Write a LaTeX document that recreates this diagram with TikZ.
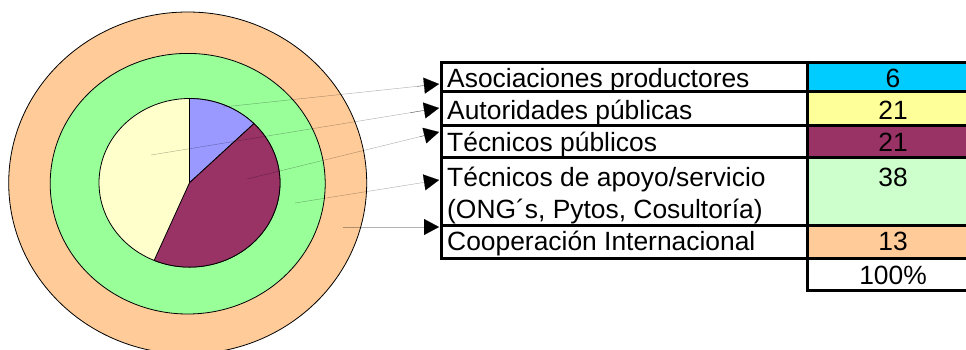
\documentclass[tikz,border=0pt]{standalone}
\usepackage{fontspec}
\setmainfont{Liberation Sans}
\usetikzlibrary{arrows.meta,calc}
\definecolor{peach}{HTML}{FFCC99}
\definecolor{lgreen}{HTML}{99FF99}
\definecolor{lblue}{HTML}{9999FF}
\definecolor{wine}{HTML}{993366}
\definecolor{lyell}{HTML}{FFFFCC}
\definecolor{cyanc}{HTML}{00CCFF}
\definecolor{yellc}{HTML}{FFFF99}
\definecolor{mintc}{HTML}{CCFFCC}
\tikzset{
 disc/.style={draw=black,line width=0.8pt},
 leader/.style={draw=black,draw opacity=0.3,line width=0.45pt},
 leadtip/.style={draw=black,line width=0.1pt,-{Triangle[length=15pt,width=16pt,black]}},
 lbl/.style={anchor=base west,font=\fontsize{26.4}{26.4}\selectfont,inner sep=0pt},
 num/.style={anchor=base,font=\fontsize{26.4}{26.4}\selectfont,inner sep=0pt},
 rule/.style={line width=3pt,black}
}
\begin{document}
\begin{tikzpicture}[x=1pt,y=-1pt]
\useasboundingbox (0,0) rectangle (966,349);
\begin{scope}
\clip (0,0) rectangle (966,349);
\draw[disc,fill=peach] (187.7,183) ellipse [x radius=179,y radius=171];
\draw[disc,fill=lgreen] (187.7,183.7) ellipse [x radius=137.5,y radius=130.3];
\coordinate (c) at (189.5,182.8);
\draw[disc,fill=lyell] (c) ellipse [x radius=90.5,y radius=84.3];
\draw[disc,fill=lblue] (c) -- ([shift={(-90:90.5 and 84.3)}]c) arc[start angle=-90,end angle=-44.6,x radius=90.5,y radius=84.3] -- cycle;
\draw[disc,fill=wine] (c) -- ([shift={(-44.6:90.5 and 84.3)}]c) arc[start angle=-44.6,delta angle=157.6,x radius=90.5,y radius=84.3] -- cycle;
\end{scope}
% table cell fills
\fill[cyanc] (807,62) rectangle (966,91);
\fill[yellc] (807,91) rectangle (966,125);
\fill[wine] (807,125) rectangle (966,157);
\fill[mintc] (807,157) rectangle (966,225);
\fill[peach] (807,225) rectangle (966,258);
% table rules
\draw[rule] (441,62) -- (966,62);
\draw[rule] (441,91) -- (966,91);
\draw[rule] (441,125) -- (966,125);
\draw[rule] (441,157) -- (966,157);
\draw[rule] (441,225) -- (966,225);
\draw[rule] (441,258) -- (966,258);
\draw[rule] (807,290) -- (966,290);
\draw[rule] (441,60.5) -- (441,259.5);
\draw[rule] (807,60.5) -- (807,292);
% text
\node[lbl] (t1) at (447,87) {Asociaciones productores};
\node[lbl] (t2) at (447,119) {Autoridades públicas};
\node[lbl] (t3) at (447,151) {Técnicos públicos};
\node[lbl] (t4) at (447,186) {Técnicos de apoyo/servicio};
\node[lbl] (t4b) at (447,218) {(ONG´s, Pytos, Cosultoría)};
\node[lbl] (t5) at (447,250) {Cooperación Internacional};
\node[num] (n1) at (893,87) {6};
\node[num] (n2) at (893,119) {21};
\node[num] (n3) at (893,151) {21};
\node[num] (n4) at (893,186) {38};
\node[num] (n5) at (893,250) {13};
\node[num] (n6) at (893,284) {100\%};
% leaders
\coordinate (a1) at (223,107); \coordinate (b1) at (439,84);
\coordinate (a2) at (151,155); \coordinate (b2) at (439,108);
\coordinate (a3) at (247,179); \coordinate (b3) at (439,132);
\coordinate (a4) at (295,203); \coordinate (b4) at (439,180);
\coordinate (a5) at (343,227); \coordinate (b5) at (439,227);
\foreach \i in {1,...,5}{
  \draw[leader] (a\i) -- ($(a\i)!0.95!(b\i)$);
  \draw[leadtip] ($(a\i)!0.9!(b\i)$) -- (b\i);
}
\end{tikzpicture}
\end{document}
